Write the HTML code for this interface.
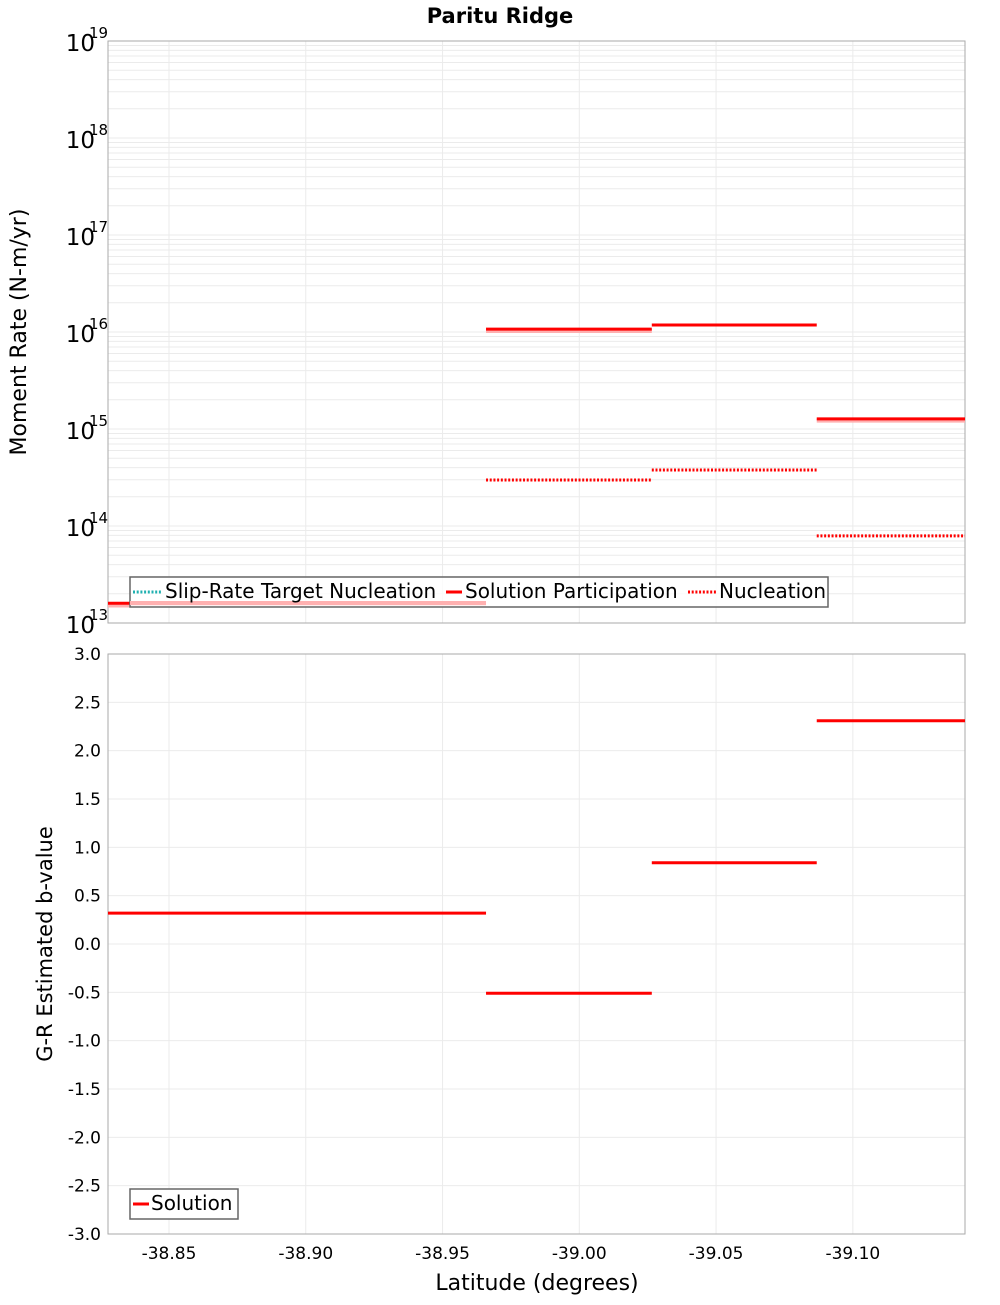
<!DOCTYPE html>
<html><head><meta charset="utf-8"><style>
body{margin:0;background:#fff;font-family:"Liberation Sans","DejaVu Sans",sans-serif}
svg text{font-family:"DejaVu Sans","Liberation Sans",sans-serif}
</style></head><body>
<svg id="c" width="1000" height="1300" xmlns="http://www.w3.org/2000/svg">
<text x="500" y="23" text-anchor="middle" font-size="21" font-weight="bold">Paritu Ridge</text>
<g id="topPanel"></g>
<g id="botPanel"></g>
</svg>
<script>
const segEdges=[-38.8277,-38.9659,-39.0265,-39.0868,-39.141];
const participation=[1.6e13,1.07e16,1.18e16,1.27e15];
const targetParticipation=[1.55e13,1.05e16,null,1.25e15];
const nucleation=[null,2.98e14,3.78e14,7.9e13];
const bValues=[0.32,-0.51,0.84,2.31];
const xTicks=[-38.85,-38.90,-38.95,-39.00,-39.05,-39.10];
const bTicks=[3.0,2.5,2.0,1.5,1.0,0.5,0.0,-0.5,-1.0,-1.5,-2.0,-2.5,-3.0];
const decades=[13,14,15,16,17,18,19];

const NS='http://www.w3.org/2000/svg';
const L=108,R=965,T1=41,B1=623,T2=654,B2=1234;
const x=v=>L+(-(v)-38.8277)/(39.141-38.8277)*(R-L);
const yLog=v=>B1-(Math.log10(v)-13)/6*(B1-T1);
const yB=v=>B2-(v+3)/6*(B2-T2);
function mk(p,tag,a,txt){const e=document.createElementNS(NS,tag);for(const k in a)e.setAttribute(k,a[k]);if(txt!=null)e.textContent=txt;p.appendChild(e);return e;}
const topG=document.getElementById('topPanel'),botG=document.getElementById('botPanel');

for(let d=13;d<19;d++)for(let m=1;m<10;m++){const y=yLog(m*Math.pow(10,d));
 const g=mk(topG,'line',{x1:L,x2:R,y1:y,y2:y,stroke:'#ebebeb','stroke-width':1});
 
 }
xTicks.forEach(t=>{[topG,botG].forEach((p,i)=>{const g=mk(p,'line',{x1:x(t),x2:x(t),y1:i?T2:T1,y2:i?B2:B1,stroke:'#ebebeb'});
 
 });});
bTicks.forEach(t=>{const g=mk(botG,'line',{x1:L,x2:R,y1:yB(t),y2:yB(t),stroke:'#ebebeb'});
 
 });

[[T1,B1,topG],[T2,B2,botG]].forEach(([a,b,p])=>{const r=mk(p,'rect',{x:L,y:a,width:R-L,height:b-a,fill:'none',stroke:'#aaa'});
 
 });

decades.forEach(d=>{const y=yLog(Math.pow(10,d));
 const t=mk(topG,'text',{x:95,y:y+10,'text-anchor':'end','font-size':23},'10');
 
 
 const s=mk(topG,'text',{x:89,y:y-3,'font-size':15},String(d));
 
 });
bTicks.forEach(t=>{const e=mk(botG,'text',{x:101,y:yB(t)+6,'text-anchor':'end','font-size':17},t.toFixed(1));
 
 });
xTicks.forEach(t=>{const e=mk(botG,'text',{x:x(t),y:1259,'text-anchor':'middle','font-size':17},t.toFixed(2));
 
 });

for(let i=0;i<4;i++){
 if(targetParticipation[i]!=null){const l=mk(topG,'line',{x1:x(segEdges[i]),x2:x(segEdges[i+1]),y1:yLog(targetParticipation[i])+1,y2:yLog(targetParticipation[i])+1,stroke:'#ffb0b0','stroke-width':4});
  
  }
 const p=mk(topG,'line',{x1:x(segEdges[i]),x2:x(segEdges[i+1]),y1:yLog(participation[i]),y2:yLog(participation[i]),stroke:'#f00','stroke-width':3});
 
 
 if(nucleation[i]!=null){const n=mk(topG,'line',{x1:x(segEdges[i]),x2:x(segEdges[i+1]),y1:yLog(nucleation[i]),y2:yLog(nucleation[i]),stroke:'#f00','stroke-width':3,'stroke-dasharray':'2 1.7'});
  
  }
}
for(let i=0;i<4;i++){const b=mk(botG,'line',{x1:x(segEdges[i]),x2:x(segEdges[i+1]),y1:yB(bValues[i]),y2:yB(bValues[i]),stroke:'#f00','stroke-width':3});
 
 }
</script>
<svg style="position:absolute;left:0;top:0" width="1000" height="1300" xmlns="http://www.w3.org/2000/svg">
<g>
<rect x="130" y="577" width="698" height="30" fill="#fff" fill-opacity="0.8" stroke="#666" stroke-width="1.5"/>
<line x1="130" y1="603" x2="486" y2="603" stroke="#ffb0b0" stroke-width="4"/>
<line x1="133" y1="592" x2="161" y2="592" stroke="#20b0b0" stroke-width="3" stroke-dasharray="2 1.7"/>
<text x="165" y="598" font-size="20">Slip-Rate Target Nucleation</text>
<line x1="446" y1="592" x2="462" y2="592" stroke="#f00" stroke-width="3"/>
<text x="465" y="598" font-size="20">Solution Participation</text>
<line x1="688" y1="592" x2="716" y2="592" stroke="#f00" stroke-width="3" stroke-dasharray="2 1.7"/>
<text x="719" y="598" font-size="20">Nucleation</text>
</g>
<g>
<rect x="130" y="1189" width="108" height="30" fill="#fff" stroke="#666" stroke-width="1.5"/>
<line x1="133" y1="1204" x2="149" y2="1204" stroke="#f00" stroke-width="3"/>
<text x="151" y="1210" font-size="20">Solution</text>
</g>
<text transform="translate(26,332) rotate(-90)" text-anchor="middle" font-size="22">Moment Rate (N-m/yr)</text>
<text transform="translate(52,944) rotate(-90)" text-anchor="middle" font-size="21">G-R Estimated b-value</text>
<text x="537" y="1290" text-anchor="middle" font-size="22">Latitude (degrees)</text>
</svg>
</body></html>
